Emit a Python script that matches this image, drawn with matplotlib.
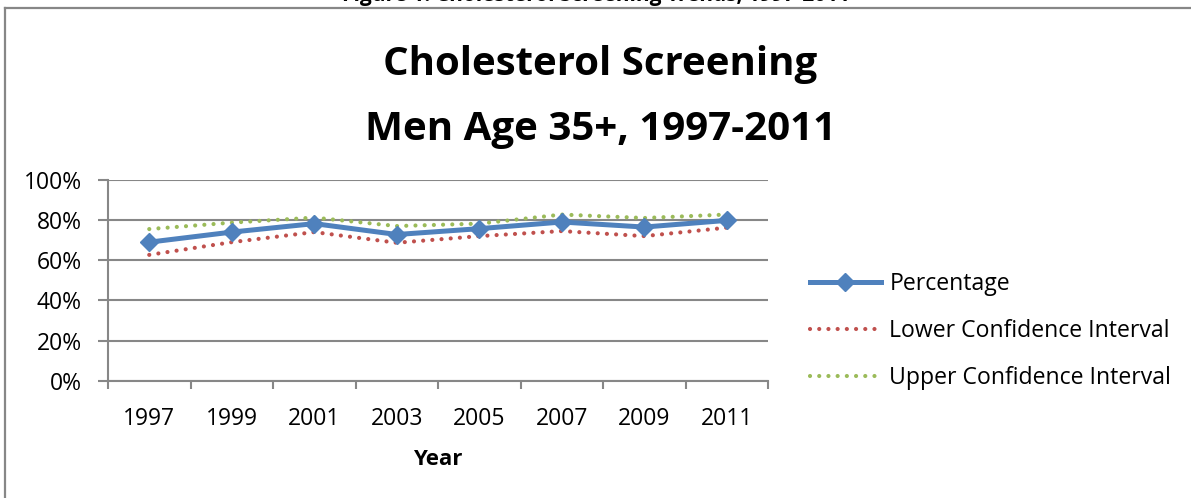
import matplotlib
matplotlib.use("Agg")
import matplotlib.pyplot as plt
from matplotlib.lines import Line2D
from matplotlib.ticker import FixedLocator, PercentFormatter

anos = ['1997', '1999', '2001', '2003', '2005', '2007', '2009', '2011']
percentual = [68.9, 73.9, 78.1, 72.7, 75.6, 78.9, 76.4, 79.7]
limite_inferior = [62.6, 68.9, 73.9, 68.6, 71.9, 74.4, 71.9, 76.1]
limite_superior = [75.4, 78.6, 81.1, 76.9, 78.1, 82.6, 80.9, 82.6]
ticks_y = [0, 20, 40, 60, 80, 100]

plt.rcParams['font.family'] = ['Open Sans', 'DejaVu Sans']

cinza = '#878787'

fig = plt.figure(figsize=(11.91, 4.98), dpi=100)
ax = fig.add_axes([108/1191, 1 - 381/498, 660/1191, 201.5/498])

x = list(range(len(anos)))
ax.plot(x, percentual, color='#4F81BD', lw=3.6, marker='D', ms=9,
        label='Percentage', zorder=3)
ax.plot(x, limite_inferior, color='#C0504D', lw=3, linestyle=(0, (0.01, 2.2)),
        dash_capstyle='round', label='Lower Confidence Interval', zorder=2)
ax.plot(x, limite_superior, color='#9BBB59', lw=3, linestyle=(0, (0.01, 2.2)),
        dash_capstyle='round', label='Upper Confidence Interval', zorder=2)

ax.set_xlim(-0.5, len(anos) - 0.5)
ax.set_ylim(0, 100)
ax.set_xticks(x)
ax.set_xticklabels(anos, fontsize=16.5)
ax.xaxis.set_minor_locator(FixedLocator([i - 0.5 for i in range(len(anos) + 1)]))
ax.tick_params(axis='x', which='major', length=0, pad=19)
ax.tick_params(axis='x', which='minor', length=6, width=1.5, color=cinza, direction='out')
ax.set_yticks(ticks_y)
ax.yaxis.set_major_formatter(PercentFormatter(decimals=0))
ax.tick_params(axis='y', length=7, width=1.5, color=cinza, labelsize=16.5, pad=12)

ax.grid(axis='y', color=cinza, lw=1.5)
ax.set_axisbelow(True)
for lado in ['top', 'right']:
    ax.spines[lado].set_visible(False)
for lado in ['left', 'bottom']:
    ax.spines[lado].set_color(cinza)
    ax.spines[lado].set_linewidth(1.5)

ax.set_xlabel('Year', fontsize=16, fontweight='bold', labelpad=13)

fig.text(0.504, 1 - 75/498, 'Cholesterol Screening', ha='center', va='baseline',
         fontsize=29, fontweight='bold')
fig.text(0.504, 1 - 140/498, 'Men Age 35+, 1997-2011', ha='center', va='baseline',
         fontsize=29, fontweight='bold')
fig.text(0.5, 1 - 1/498, 'Figure 1: Cholesterol Screening Trends, 1997-2011',
         ha='center', va='baseline', fontsize=15, fontweight='bold')

ax.legend(loc='center left', bbox_to_anchor=(789/1191, 1 - 331/498),
          bbox_transform=fig.transFigure, frameon=False, fontsize=16.6,
          handlelength=3.1, labelspacing=1.0, handletextpad=0.35)

# moldura do gráfico
fig.add_artist(Line2D([5/1191, 5/1191], [0, 1 - 8.5/498], transform=fig.transFigure,
                      color=cinza, lw=1.6))
fig.add_artist(Line2D([5/1191, 1], [1 - 8.5/498, 1 - 8.5/498], transform=fig.transFigure,
                      color=cinza, lw=1.6))

fig.savefig('out.png', dpi=100)
